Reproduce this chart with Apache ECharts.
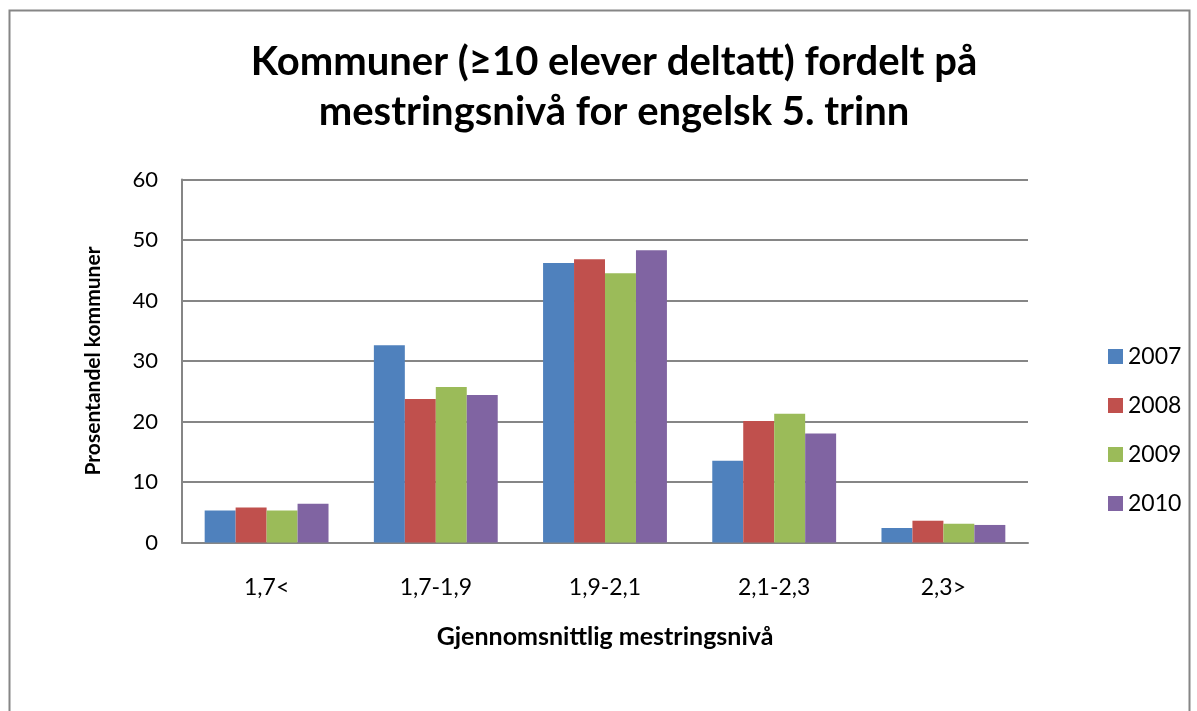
<!DOCTYPE html>
<html>
<head>
<meta charset="utf-8">
<script src="https://cdn.jsdelivr.net/npm/echarts@6/dist/echarts.min.js"></script>
<style>
  html, body { margin: 0; padding: 0; background: #fff; }
  #main { width: 1197px; height: 711px; }
</style>
</head>
<body>
<div id="main"></div>
<script>
// data
const categories = ['1,7<', '1,7-1,9', '1,9-2,1', '2,1-2,3', '2,3>']
const years = ['2007', '2008', '2009', '2010']
const values2007 = [5.3, 32.6, 46.2, 13.5, 2.4]
const values2008 = [5.8, 23.7, 46.8, 20.1, 3.6]
const values2009 = [5.3, 25.7, 44.5, 21.3, 3.1]
const values2010 = [6.4, 24.4, 48.3, 18.0, 2.9]
const yTicks = [0, 10, 20, 30, 40, 50, 60]

const colors = ['#4F81BD', '#C0504D', '#9BBB59', '#8064A2']
const font = 'Lato, "Open Sans", sans-serif'

const chart = echarts.init(document.getElementById('main'))
const allValues = [values2007, values2008, values2009, values2010]

chart.setOption({
  animation: false,
  color: colors,
  title: {
    text: 'Kommuner (≥10 elever deltatt) fordelt på\nmestringsnivå for engelsk 5. trinn',
    left: 609,
    top: 32,
    textAlign: 'center',
    textStyle: {
      fontFamily: font,
      fontWeight: 'bold',
      fontSize: 40,
      lineHeight: 50,
      color: '#000'
    }
  },
  graphic: [{
    type: 'rect',
    shape: { x: 9.5, y: 10.5, width: 1180, height: 720 },
    style: { fill: 'none', stroke: '#868686', lineWidth: 2 },
    silent: true
  }],
  legend: {
    orient: 'vertical',
    left: 1103,
    top: 340,
    itemWidth: 15,
    itemHeight: 15,
    itemGap: 26,
    icon: 'rect',
    textStyle: { fontFamily: font, fontSize: 23, color: '#000' },
    data: years
  },
  grid: { left: 182, right: 169, top: 179.5, bottom: 168.5 },
  xAxis: {
    type: 'category',
    data: categories,
    name: 'Gjennomsnittlig mestringsnivå',
    nameLocation: 'middle',
    nameGap: 82,
    nameTextStyle: { fontFamily: font, fontWeight: 'bold', fontSize: 25, color: '#000' },
    axisLine: { lineStyle: { color: '#868686', width: 2 } },
    axisTick: { show: false },
    axisLabel: { fontFamily: font, fontSize: 23, color: '#000', margin: 34 }
  },
  yAxis: {
    type: 'value',
    min: yTicks[0],
    max: yTicks[yTicks.length - 1],
    interval: 10,
    name: 'Prosentandel kommuner',
    nameLocation: 'middle',
    nameGap: 78,
    nameTextStyle: { fontFamily: font, fontWeight: 'bold', fontSize: 21, color: '#000' },
    axisLine: { show: true, lineStyle: { color: '#868686', width: 2 } },
    axisTick: { show: false },
    axisLabel: { fontFamily: font, fontSize: 22, color: '#000', margin: 24 },
    splitLine: { lineStyle: { color: '#868686', width: 2 } }
  },
  series: years.map((y, i) => ({
    name: y,
    type: 'bar',
    data: allValues[i],
    barWidth: '18.3%',
    barGap: '0%',
    barCategoryGap: '27%',
    itemStyle: { color: colors[i] }
  }))
})
</script>
</body>
</html>
